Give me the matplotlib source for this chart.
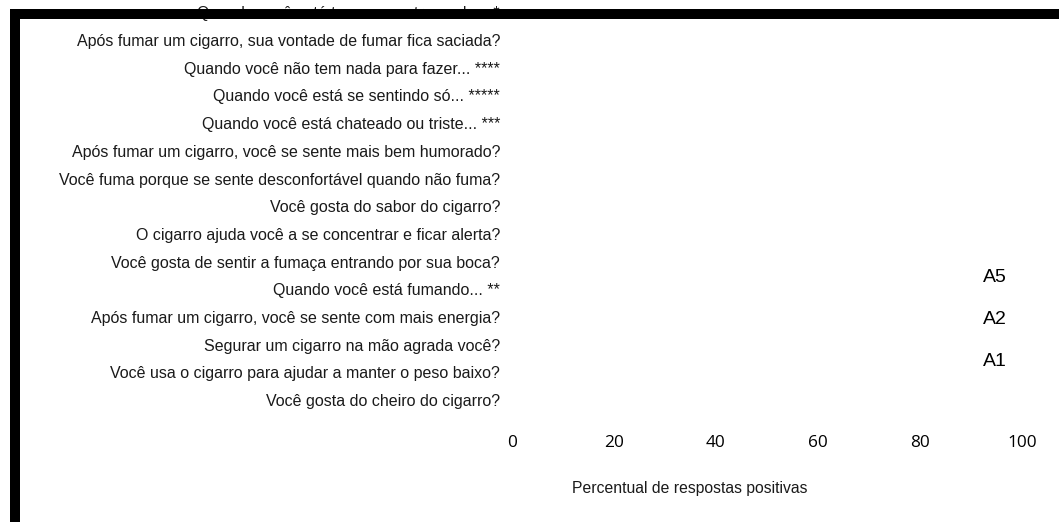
import matplotlib
matplotlib.use("Agg")
import matplotlib.pyplot as plt
from matplotlib.patches import Rectangle
import numpy as np

# Perguntas (de baixo para cima, como aparecem no eixo)
perguntas = [
    "Você gosta do cheiro do cigarro?",
    "Você usa o cigarro para ajudar a manter o peso baixo?",
    "Segurar um cigarro na mão agrada você?",
    "Após fumar um cigarro, você se sente com mais energia?",
    "Quando você está fumando... **",
    "Você gosta de sentir a fumaça entrando por sua boca?",
    "O cigarro ajuda você a se concentrar e ficar alerta?",
    "Você gosta do sabor do cigarro?",
    "Você fuma porque se sente desconfortável quando não fuma?",
    "Após fumar um cigarro, você se sente mais bem humorado?",
    "Quando você está chateado ou triste... ***",
    "Quando você está se sentindo só... *****",
    "Quando você não tem nada para fazer... ****",
    "Após fumar um cigarro, sua vontade de fumar fica saciada?",
    "Quando você está tenso ou estressado... *",
]

# nenhuma barra aparece na figura original
a1 = [0] * len(perguntas)
a2 = [0] * len(perguntas)
a5 = [0] * len(perguntas)

x_ticks = [0, 20, 40, 60, 80, 100]

fig = plt.figure(figsize=(10.59, 5.22), dpi=100)
W, H = 1059, 522
ax = fig.add_axes([512 / W, 1 - 414 / H, 510 / W, 401.6 / H])

y = np.arange(len(perguntas))
h = 0.25
ax.barh(y - h, a1, height=h, color="white", label="A1")
ax.barh(y, a2, height=h, color="white", label="A2")
ax.barh(y + h, a5, height=h, color="white", label="A5")

ax.set_xlim(0, 100)
ax.set_ylim(-0.5, 14)
ax.set_xticks(x_ticks)
ax.set_xticklabels([str(v) for v in x_ticks], fontfamily="Open Sans", fontsize=12.4)
ax.set_yticks(y)
ax.set_yticklabels(perguntas, fontfamily="Liberation Sans", fontsize=11.55, color="#1a1a1a")
ax.tick_params(axis="x", length=0, pad=15)
ax.tick_params(axis="y", length=0, pad=8.6)
for s in ax.spines.values():
    s.set_visible(False)

handles, labels = ax.get_legend_handles_labels()
leg = fig.legend(handles[::-1], labels[::-1], loc="upper left",
                 bbox_to_anchor=(983 / W, 1 - 268 / H), frameon=False,
                 handlelength=0, handletextpad=0, borderaxespad=0, borderpad=0,
                 labelspacing=1.27, prop={"family": "Liberation Sans", "size": 14})
for hnd in leg.legend_handles:
    hnd.set_visible(False)

fig.text(690 / W, 1 - 489 / H, "Percentual de respostas positivas",
         ha="center", va="center", fontfamily="Liberation Sans", fontsize=11.3,
         color="#1a1a1a")

# moldura preta deslocada
frame = Rectangle((15 / W, -0.5), 2, 1.5 - 14 / H, transform=fig.transFigure,
                  fill=False, edgecolor="black", linewidth=7.2, zorder=10)
fig.add_artist(frame)

fig.savefig("out.png", dpi=100)
